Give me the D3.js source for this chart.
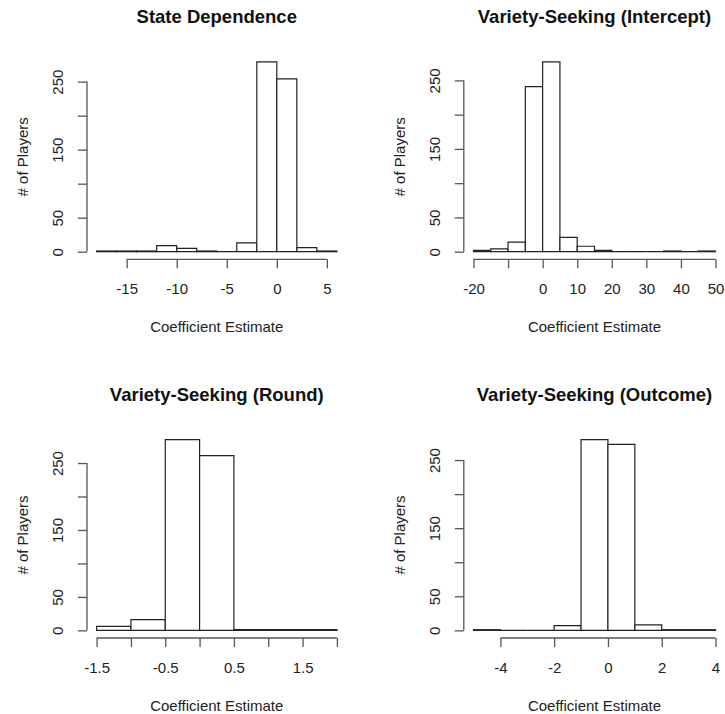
<!DOCTYPE html>
<html>
<head>
<meta charset="utf-8">
<script src="https://cdn.jsdelivr.net/npm/d3@7"></script>
<style>
  body { margin: 0; background: #fff; }
  text { font-family: "Liberation Sans", Arial, Helvetica, sans-serif; }
</style>
</head>
<body>
<div id="app"></div>
<script>

// histogram bin edges and counts
var stateBreaks = [-18, -16, -14, -12, -10, -8, -6, -4, -2, 0, 2, 4, 6];
var stateCounts = [1, 1, 1, 9, 5, 1, 0, 13, 279, 254, 6, 1];

var interceptBreaks = [-20, -15, -10, -5, 0, 5, 10, 15, 20, 25, 30, 35, 40, 45, 50];
var interceptCounts = [2, 4, 14, 241, 277, 21, 8, 2, 0, 0, 0, 1, 0, 1];

var roundBreaks = [-1.5, -1.0, -0.5, 0, 0.5, 1.0, 1.5, 2.0];
var roundCounts = [6, 16, 285, 261, 1, 1, 1];

var outcomeBreaks = [-5, -4, -3, -2, -1, 0, 1, 2, 3, 4];
var outcomeCounts = [1, 0, 0, 7, 280, 273, 8, 1, 1];

var titles = ["State Dependence", "Variety-Seeking (Intercept)",
	      "Variety-Seeking (Round)", "Variety-Seeking (Outcome)"];

var stateTicks = [-15, -10, -5, 0, 5];
var stateLabels = ["-15", "-10", "-5", "0", "5"];
var interceptTicks = [-20, -10, 0, 10, 20, 30, 40, 50];
var interceptLabels = ["-20", "", "0", "10", "20", "30", "40", "50"];
var roundTicks = [-1.5, -1.0, -0.5, 0, 0.5, 1.0, 1.5, 2.0];
var roundLabels = ["-1.5", "", "-0.5", "", "0.5", "", "1.5", ""];
var outcomeTicks = [-4, -2, 0, 2, 4];
var outcomeLabels = ["-4", "-2", "0", "2", "4"];

var yTicks = [0, 50, 100, 150, 200, 250];
var yLabels = ["0", "50", "", "150", "", "250"];

var xTitle = "Coefficient Estimate";
var yTitle = "# of Players";

// plot regions (R style: plot box, usr extended 4%)
var cols = [[87, 346.5], [463.8, 725.2]];
var rows = [[54.3, 259.3], [432, 638]];

var panels = [
    {breaks: stateBreaks, counts: stateCounts, ticks: stateTicks, labels: stateLabels, col: 0, row: 0},
    {breaks: interceptBreaks, counts: interceptCounts, ticks: interceptTicks, labels: interceptLabels, col: 1, row: 0},
    {breaks: roundBreaks, counts: roundCounts, ticks: roundTicks, labels: roundLabels, col: 0, row: 1},
    {breaks: outcomeBreaks, counts: outcomeCounts, ticks: outcomeTicks, labels: outcomeLabels, col: 1, row: 1}
];

var svg = d3.select("#app")
    .append("svg")
    .attr("width", 725)
    .attr("height", 714);

var axisColor = "#555";

panels.forEach(function (p, i) {
    var left = cols[p.col][0], right = cols[p.col][1];
    var top = rows[p.row][0], bottom = rows[p.row][1];

    var lo = p.breaks[0], hi = p.breaks[p.breaks.length - 1];
    var pad = 0.04 * (hi - lo);
    var ymax = d3.max(p.counts);

    var x = d3.scaleLinear()
	.domain([lo - pad, hi + pad])
	.range([left, right]);
    var y = d3.scaleLinear()
	.domain([-0.04 * ymax, 1.04 * ymax])
	.range([bottom, top]);

    var g = svg.append("g");

    // bars (as paths so empty bins still show their flat outline)
    g.selectAll(".bar")
	.data(p.counts)
	.enter()
	.append("path")
	.attr("class", "bar")
	.attr("d", function (d, k) {
	    var x0 = x(p.breaks[k]), x1 = x(p.breaks[k + 1]);
	    return "M" + x0 + "," + y(0) + "V" + y(d) + "H" + x1 + "V" + y(0) + "Z";
	})
	.style("fill", "#fff")
	.style("stroke", "#222")
	.style("stroke-width", 1.2);

    // x axis
    var xAxis = d3.axisBottom(x)
	.tickValues(p.ticks)
	.tickSize(9)
	.tickPadding(0)
	.tickFormat(function (d, k) { return p.labels[k]; });

    var gx = g.append("g")
	.attr("transform", "translate(0," + bottom + ")")
	.call(xAxis);
    gx.select(".domain").remove();
    gx.selectAll("line").style("stroke", axisColor).style("stroke-width", 1.3);
    gx.selectAll("text")
	.attr("y", 35)
	.attr("dy", null)
	.style("font-size", "15px")
	.style("fill", "#222");
    gx.append("line")
	.attr("x1", x(p.ticks[0]))
	.attr("x2", x(p.ticks[p.ticks.length - 1]))
	.style("stroke", axisColor)
	.style("stroke-width", 1.3);

    // y axis
    var yAxis = d3.axisLeft(y)
	.tickValues(yTicks)
	.tickSize(9)
	.tickFormat(function (d, k) { return yLabels[k]; });

    var gy = g.append("g")
	.attr("transform", "translate(" + left + ",0)")
	.call(yAxis);
    gy.select(".domain").remove();
    gy.selectAll("line").style("stroke", axisColor).style("stroke-width", 1.3);
    gy.selectAll("text")
	.attr("transform", "rotate(-90)")
	.attr("x", 0)
	.attr("y", -23.6)
	.attr("dy", null)
	.attr("text-anchor", "middle")
	.style("font-size", "15px")
	.style("fill", "#222");
    gy.append("line")
	.attr("y1", y(yTicks[0]))
	.attr("y2", y(yTicks[yTicks.length - 1]))
	.style("stroke", axisColor)
	.style("stroke-width", 1.3);

    // titles
    g.append("text")
	.attr("x", (left + right) / 2)
	.attr("y", top - 31)
	.attr("text-anchor", "middle")
	.style("font-size", "18.5px")
	.style("font-weight", "bold")
	.style("fill", "#111")
	.text(titles[i]);

    g.append("text")
	.attr("x", (left + right) / 2)
	.attr("y", bottom + 73)
	.attr("text-anchor", "middle")
	.style("font-size", "15px")
	.style("fill", "#222")
	.text(xTitle);

    g.append("text")
	.attr("transform", "translate(" + (left - 59) + "," + ((top + bottom) / 2) + ") rotate(-90)")
	.attr("text-anchor", "middle")
	.style("font-size", "15px")
	.style("fill", "#222")
	.text(yTitle);
});

</script>
</body>
</html>
